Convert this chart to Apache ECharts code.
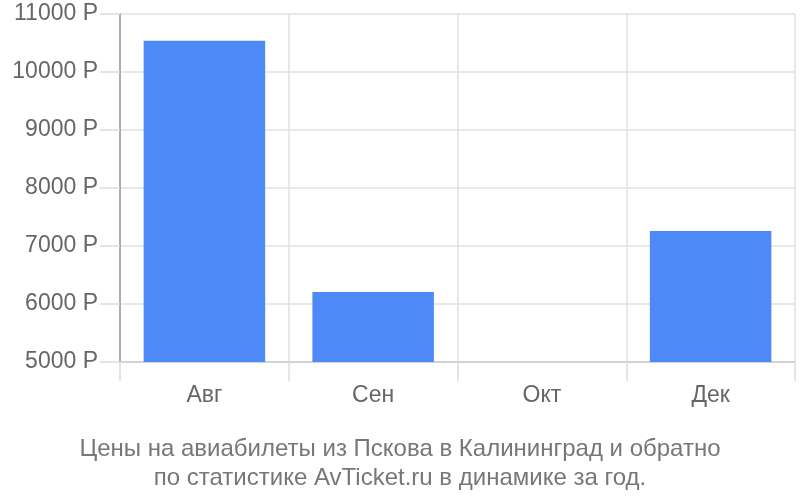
<!DOCTYPE html>
<html><head><meta charset="utf-8">
<script src="https://cdn.jsdelivr.net/npm/echarts@6/dist/echarts.min.js"></script>
<style>html,body{margin:0;padding:0;background:#fff}#c{width:800px;height:500px}</style>
</head><body><div id="c"></div>
<script>
var categories = ['Авг', 'Сен', 'Окт', 'Дек'];
var prices = [10540, 6205, null, 7260];
var yTicks = [5000, 6000, 7000, 8000, 9000, 10000, 11000];
var titleLines = ['Цены на авиабилеты из Пскова в Калининград и обратно', 'по статистике AvTicket.ru в динамике за год.'];

var chart = echarts.init(document.getElementById('c'));
chart.setOption({
  animation: false,
  backgroundColor: '#fff',
  title: {
    text: titleLines.join('\n'),
    left: 'center', top: 430,
    textStyle: { fontFamily: 'Liberation Sans', fontSize: 24, fontWeight: 'normal', color: '#777', lineHeight: 29 }
  },
  grid: { left: 120, right: 5, top: 14, bottom: 138, containLabel: false },
  xAxis: {
    type: 'category', data: categories,
    axisLine: { show: true, lineStyle: { color: '#ccc', width: 1.5 } },
    axisTick: { show: true, length: 19, lineStyle: { color: '#ddd', width: 1.5 } },
    splitLine: { show: true, lineStyle: { color: '#e0e0e0', width: 1.5 } },
    axisLabel: { margin: 22, fontFamily: 'Liberation Sans', fontSize: 23, color: '#666' }
  },
  yAxis: {
    type: 'value', min: yTicks[0], max: yTicks[yTicks.length - 1], interval: 1000,
    axisLine: { show: true, lineStyle: { color: '#999', width: 1.5 } },
    axisTick: { show: true, length: 20, lineStyle: { color: '#ddd', width: 1.5 } },
    splitLine: { show: true, lineStyle: { color: '#e0e0e0', width: 1.5 } },
    axisLabel: { margin: 22, fontFamily: 'Liberation Sans', fontSize: 23, color: '#666',
      formatter: function (v) { return v + ' Р'; } }
  },
  series: [{
    type: 'bar', data: prices, barWidth: '72%',
    itemStyle: { color: '#4d8af8' }
  }]
});
</script></body></html>
